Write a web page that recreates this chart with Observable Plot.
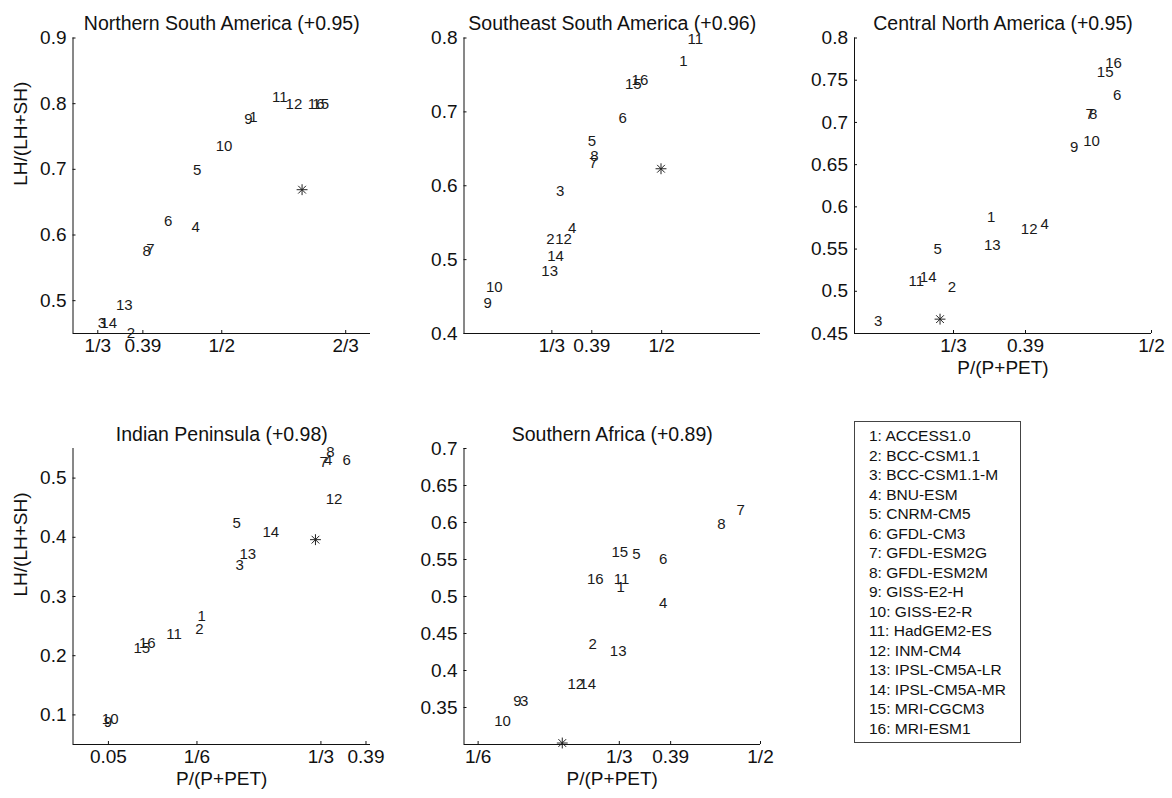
<!DOCTYPE html>
<html>
<head>
<meta charset="utf-8">
<script src="https://cdn.jsdelivr.net/npm/d3@7"></script>
<script src="https://cdn.jsdelivr.net/npm/@observablehq/plot@0.6"></script>
<style>
  html, body { margin: 0; padding: 0; background: #fff; }
  #chart { position: relative; width: 1172px; height: 798px; overflow: hidden; font-family: "Liberation Sans", Arial, Helvetica, sans-serif; }
  #legend { position: absolute; left: 854px; top: 421px; width: 167px; height: 322px; box-sizing: border-box;
            border: 1px solid #444; padding: 4px 0 0 14px; font-size: 15.5px; line-height: 19.5px; color: #111; }
</style>
</head>
<body>
<div id="chart"><div id="legend"></div></div>
<script>
// ---------- data ----------
const models = ["ACCESS1.0","BCC-CSM1.1","BCC-CSM1.1-M","BNU-ESM","CNRM-CM5","GFDL-CM3","GFDL-ESM2G","GFDL-ESM2M",
  "GISS-E2-H","GISS-E2-R","HadGEM2-ES","INM-CM4","IPSL-CM5A-LR","IPSL-CM5A-MR","MRI-CGCM3","MRI-ESM1"];

// Northern South America
const nsaX = [0.5425,0.378,0.339,0.465,0.467,0.428,0.404,0.399,0.536,0.503,0.578,0.597,0.369,0.348,0.633,0.627];
const nsaY = [0.780,0.451,0.466,0.612,0.698,0.621,0.578,0.576,0.777,0.736,0.810,0.799,0.493,0.466,0.799,0.799];
const nsaObs = [0.608,0.669];
// Southeast South America
const sesaX = [0.533,0.331,0.346,0.364,0.394,0.441,0.396,0.398,0.236,0.246,0.551,0.351,0.330,0.339,0.457,0.467];
const sesaY = [0.768,0.527,0.593,0.542,0.660,0.691,0.630,0.640,0.441,0.463,0.798,0.528,0.485,0.504,0.737,0.743];
const sesaObs = [0.499,0.623];
// Central North America
const cnaX = [0.365,0.332,0.270,0.410,0.320,0.471,0.448,0.451,0.435,0.4495,0.302,0.397,0.366,0.312,0.461,0.468];
const cnaY = [0.588,0.505,0.465,0.579,0.550,0.732,0.710,0.710,0.671,0.678,0.512,0.574,0.555,0.517,0.760,0.770];
const cnaObs = [0.322,0.467];
// Indian Peninsula
const indX = [0.173,0.170,0.224,0.343,0.220,0.368,0.337,0.346,0.047,0.050,0.136,0.351,0.235,0.266,0.0925,0.100];
const indY = [0.266,0.244,0.353,0.530,0.423,0.530,0.527,0.544,0.088,0.092,0.237,0.464,0.371,0.408,0.212,0.221];
const indObs = [0.326,0.396];
// Southern Africa
const safX = [0.335,0.302,0.221,0.385,0.3535,0.385,0.4765,0.454,0.213,0.1955,0.336,0.282,0.332,0.296,0.334,0.305];
const safY = [0.512,0.436,0.358,0.491,0.557,0.551,0.617,0.598,0.358,0.331,0.523,0.382,0.426,0.382,0.5595,0.523];
const safObs = [0.266,0.302];

// tick values (aridity thresholds expressed as P/(P+PET))
const tHyper = 0.05/1.05, tArid = 0.2/1.2, tSemi = 0.5/1.5, tSub = 0.65/1.65, tHum = 1/2, tWet = 2/3;
const nsaXTicks = [tSemi, tSub, tHum, tWet],  nsaXLabels = ["1/3","0.39","1/2","2/3"];
const sesaXTicks = [tSemi, tSub, tHum],       sesaXLabels = ["1/3","0.39","1/2"];
const cnaXTicks = [tSemi, tSub, tHum],        cnaXLabels = ["1/3","0.39","1/2"];
const indXTicks = [tHyper, tArid, tSemi, tSub], indXLabels = ["0.05","1/6","1/3","0.39"];
const safXTicks = [tArid, tSemi, tSub, tHum], safXLabels = ["1/6","1/3","0.39","1/2"];
const nsaYTicks = [0.5,0.6,0.7,0.8,0.9];
const sesaYTicks = [0.4,0.5,0.6,0.7,0.8];
const cnaYTicks = [0.45,0.5,0.55,0.6,0.65,0.7,0.75,0.8];
const indYTicks = [0.1,0.2,0.3,0.4,0.5];
const safYTicks = [0.35,0.4,0.45,0.5,0.55,0.6,0.65,0.7];

// ---------- drawing ----------
const W = 1172, H = 798;
const FONT = "'Liberation Sans', Arial, Helvetica, sans-serif";
const INK = "#111";
const fmt = d => String(Math.round(d * 100) / 100);

function panel(c) {
  const innerW = c.R - c.L, innerH = c.B - c.T;
  const pts = c.xs.map((x, i) => ({x, y: c.ys[i], label: String(i + 1)}));
  const xt = c.xTicks.map((v, i) => ({v, label: c.xLabels[i]}));
  const marks = [
    Plot.ruleX([c.xDomain[0]], {stroke: INK, strokeWidth: 1}),
    Plot.ruleY([c.yDomain[0]], {stroke: INK, strokeWidth: 1}),
    Plot.tickX(c.xTicks, {x: d => d, insetTop: innerH - 3, stroke: INK}),
    Plot.tickY(c.yTicks, {y: d => d, insetRight: innerW - 3, stroke: INK}),
    Plot.text(xt, {x: "v", text: "label", frameAnchor: "bottom", dy: 18.5, fontSize: 19, fill: INK}),
    Plot.text(c.yTicks, {y: d => d, text: d => fmt(d), frameAnchor: "left", dx: -6.5, textAnchor: "end", fontSize: 19, fill: INK}),
    Plot.text([c.title], {text: d => d, frameAnchor: "top", dy: -21.5, fontSize: 19.5, fill: INK}),
    Plot.text(pts, {x: "x", y: "y", text: "label", fontSize: 15, fill: "#1a1a1a"}),
    Plot.dot([c.obs], {x: d => d[0], y: d => d[1], symbol: "plus", r: 3.6, stroke: "#222", strokeWidth: 1}),
    Plot.dot([c.obs], {x: d => d[0], y: d => d[1], symbol: "times", r: 3.6, stroke: "#222", strokeWidth: 1})
  ];
  if (c.yLabel) marks.push(Plot.text(["LH/(LH+SH)"], {text: d => d, frameAnchor: "left", dx: -52, rotate: -90, fontSize: 19, fill: INK}));
  if (c.xLabel) marks.push(Plot.text(["P/(P+PET)"], {text: d => d, frameAnchor: "bottom", dy: 40, fontSize: 19, fill: INK}));
  return Plot.plot({
    width: W, height: H,
    marginLeft: c.L, marginRight: W - c.R, marginTop: c.T, marginBottom: H - c.B,
    x: {domain: c.xDomain, axis: null},
    y: {domain: c.yDomain, axis: null},
    style: `position:absolute;left:0;top:0;background:transparent;overflow:visible;font-family:${FONT};color:${INK};`,
    marks
  });
}

const colL = [72.5, 370], colM = [463.5, 760], colR = [854, 1151];
const rowT = [37.5, 333], rowB = [448, 744];

const panels = [
  {title: "Northern South America (+0.95)", xs: nsaX, ys: nsaY, obs: nsaObs, xDomain: [0.3, 0.7], yDomain: [0.45, 0.9],
   xTicks: nsaXTicks, xLabels: nsaXLabels, yTicks: nsaYTicks, L: colL[0], R: colL[1], T: rowT[0], B: rowT[1], yLabel: true},
  {title: "Southeast South America (+0.96)", xs: sesaX, ys: sesaY, obs: sesaObs, xDomain: [0.2, 0.65], yDomain: [0.4, 0.8],
   xTicks: sesaXTicks, xLabels: sesaXLabels, yTicks: sesaYTicks, L: colM[0], R: colM[1], T: rowT[0], B: rowT[1]},
  {title: "Central North America (+0.95)", xs: cnaX, ys: cnaY, obs: cnaObs, xDomain: [0.25, 0.5], yDomain: [0.45, 0.8],
   xTicks: cnaXTicks, xLabels: cnaXLabels, yTicks: cnaYTicks, L: colR[0], R: colR[1], T: rowT[0], B: rowT[1], xLabel: true},
  {title: "Indian Peninsula (+0.98)", xs: indX, ys: indY, obs: indObs, xDomain: [0, 0.4], yDomain: [0.05, 0.55],
   xTicks: indXTicks, xLabels: indXLabels, yTicks: indYTicks, L: colL[0], R: colL[1], T: rowB[0], B: rowB[1], yLabel: true, xLabel: true},
  {title: "Southern Africa (+0.89)", xs: safX, ys: safY, obs: safObs, xDomain: [0.15, 0.5], yDomain: [0.3, 0.7],
   xTicks: safXTicks, xLabels: safXLabels, yTicks: safYTicks, L: colM[0], R: colM[1], T: rowB[0], B: rowB[1], xLabel: true}
];

const chart = document.getElementById("chart");
const legend = document.getElementById("legend");
for (const p of panels) chart.insertBefore(panel(p), legend);
legend.innerHTML = models.map((m, i) => `<div>${i + 1}: ${m}</div>`).join("");
</script>
</body>
</html>
